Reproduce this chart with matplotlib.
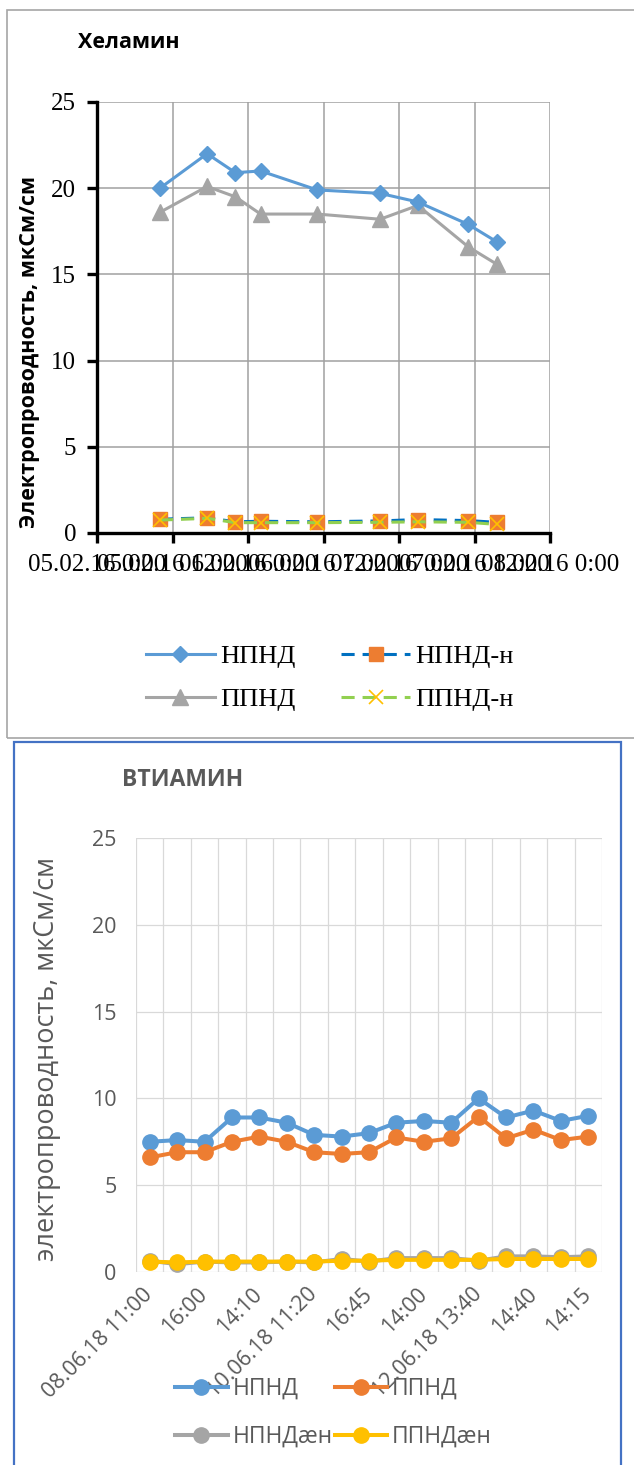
import matplotlib
matplotlib.use("Agg")
import matplotlib.pyplot as plt
from matplotlib.patches import Rectangle
from datetime import datetime
import numpy as np

# ---------------- data: Хеламин ----------------
hel_times = ["05.02.16 10:00", "05.02.16 17:30", "05.02.16 22:00",
             "06.02.16 02:00", "06.02.16 11:00", "06.02.16 21:00",
             "07.02.16 03:00", "07.02.16 11:00", "07.02.16 15:30"]
hel_npnd = [20.0, 22.0, 20.9, 21.0, 19.9, 19.7, 19.2, 17.9, 16.9]
hel_ppnd = [18.6, 20.1, 19.5, 18.5, 18.5, 18.2, 19.0, 16.6, 15.6]
hel_npnd_n = [0.8, 0.88, 0.65, 0.68, 0.65, 0.7, 0.78, 0.72, 0.62]
hel_ppnd_n = [0.75, 0.85, 0.6, 0.6, 0.6, 0.62, 0.65, 0.62, 0.5]
hel_tick_labels = ["05.02.16 0:00", "05.02.16 12:00", "06.02.16 0:00",
                   "06.02.16 12:00", "07.02.16 0:00", "07.02.16 12:00",
                   "08.02.16 0:00"]

# ---------------- data: ВТИАМИН ----------------
vti_npnd = [7.5, 7.6, 7.5, 8.9, 8.9, 8.6, 7.9, 7.8, 8.0, 8.6, 8.7, 8.6,
            10.0, 8.9, 9.3, 8.7, 9.0]
vti_ppnd = [6.6, 6.9, 6.9, 7.5, 7.8, 7.5, 6.9, 6.8, 6.9, 7.75, 7.5, 7.7,
            8.95, 7.7, 8.2, 7.6, 7.8]
vti_npnd_aen = [0.65, 0.45, 0.6, 0.55, 0.55, 0.6, 0.55, 0.75, 0.6, 0.8, 0.8,
                0.8, 0.65, 0.9, 0.9, 0.85, 0.9]
vti_ppnd_aen = [0.6, 0.55, 0.6, 0.6, 0.6, 0.6, 0.6, 0.65, 0.65, 0.7, 0.7,
                0.7, 0.7, 0.75, 0.75, 0.75, 0.75]
vti_tick_labels = ["08.06.18 11:00", "16:00", "14:10", "10.06.18 11:20",
                   "16:45", "14:00", "12.06.18 13:40", "14:40", "14:15"]

W, H, DPI = 634, 1465, 100
fig = plt.figure(figsize=(W / DPI, H / DPI), dpi=DPI)


def box(x0, y0, x1, y1):
    """pixel box (top-left origin) -> figure fraction rect"""
    return [x0 / W, 1 - y1 / H, (x1 - x0) / W, (y1 - y0) / H]


def fx(x):
    return x / W


def fy(y):
    return 1 - y / H


SERIF = "Liberation Serif"
SANS = "Open Sans"

# panel frames
fig.patches.append(Rectangle((fx(7), fy(738)), fx(700) - fx(7), fy(10) - fy(738),
                             transform=fig.transFigure, fill=False,
                             edgecolor="#a6a6a6", lw=1.2))
fig.patches.append(Rectangle((fx(14), fy(1500)), fx(621) - fx(14), fy(742) - fy(1500),
                             transform=fig.transFigure, fill=False,
                             edgecolor="#4472C4", lw=1.6))

# ================= Хеламин =================
ax1 = fig.add_axes(box(97, 102, 550, 533))
t1 = [datetime.strptime(s, "%d.%m.%y %H:%M") for s in hel_times]
tick_pos = [datetime.strptime(s, "%d.%m.%y %H:%M") for s in hel_tick_labels]

lw1 = 2.2
ax1.plot(t1, hel_npnd, color="#5B9BD5", lw=lw1, marker="D", ms=8.5,
         label="НПНД", zorder=4)
ax1.plot(t1, hel_ppnd, color="#A5A5A5", lw=lw1, marker="^", ms=11,
         label="ППНД", zorder=3)
ax1.plot(t1, hel_npnd_n, color="#0070C0", lw=lw1, ls=(0, (4.3, 2.6)),
         marker="s", ms=10, mfc="#ED7D31", mec="#ED7D31", label="НПНД-н", zorder=4)
ax1.plot(t1, hel_ppnd_n, color="#92D050", lw=lw1, ls=(0, (4.3, 2.6)),
         marker="x", ms=10, mew=1.2, mec="#FFC000", label="ППНД-н", zorder=5)

ax1.set_xlim(tick_pos[0], tick_pos[-1])
ax1.set_ylim(0, 25)
ax1.set_yticks(np.arange(0, 26, 5))
ax1.set_xticks(tick_pos)
ax1.set_xticklabels(hel_tick_labels)
ax1.grid(True, color="#a0a0a0", lw=1.1)
ax1.set_axisbelow(True)
for s in ("top", "right"):
    ax1.spines[s].set_visible(False)
for s in ("left", "bottom"):
    ax1.spines[s].set_linewidth(2.4)
    ax1.spines[s].set_color("black")
ax1.tick_params(direction="out", length=7, width=2.4, color="black",
                labelsize=18, pad=8)
for lab in ax1.get_xticklabels() + ax1.get_yticklabels():
    lab.set_fontfamily(SERIF)

fig.text(fx(78), fy(43), "Хеламин", family=SANS, weight="bold",
         fontsize=15.5, ha="left", va="center", color="black")
fig.text(fx(30), fy(352), "Электропроводность, мкСм/см", family=SANS,
         weight="bold", fontsize=15.5, rotation=90, ha="center", va="center")

h1, l1 = ax1.get_legend_handles_labels()
fig.legend(h1, l1, ncol=2,
           loc="upper left", bbox_to_anchor=(fx(146), fy(645)),
           frameon=False, prop={"family": SERIF, "size": 19},
           handlelength=2.6, handletextpad=0.2, columnspacing=1.75,
           labelspacing=0.72, borderpad=0, borderaxespad=0)

# ================= ВТИАМИН =================
ax2 = fig.add_axes(box(136, 838, 602, 1272))
x2 = np.arange(len(vti_npnd))
lw2 = 2.9
ms2 = 11
ax2.plot(x2, vti_npnd, color="#5B9BD5", lw=lw2, marker="o", ms=ms2, label="НПНД")
ax2.plot(x2, vti_ppnd, color="#ED7D31", lw=lw2, marker="o", ms=ms2, label="ППНД")
ax2.plot(x2, vti_npnd_aen, color="#A5A5A5", lw=lw2, marker="o", ms=ms2,
         label="НПНДæн")
ax2.plot(x2, vti_ppnd_aen, color="#FFC000", lw=lw2, marker="o", ms=ms2,
         label="ППНДæн")

ax2.set_xlim(-0.5, len(vti_npnd) - 0.5)
ax2.set_ylim(0, 25)
ax2.set_yticks(np.arange(0, 26, 5))
ax2.set_xticks(np.arange(0, len(vti_npnd), 2))
ax2.set_xticklabels(vti_tick_labels, rotation=45, ha="right",
                    rotation_mode="anchor", va="center")
ax2.set_xticks(np.arange(-0.5, len(vti_npnd), 1), minor=True)
ax2.grid(True, which="major", axis="y", color="#d9d9d9", lw=0.9)
ax2.grid(True, which="minor", axis="x", color="#d9d9d9", lw=0.9)
ax2.set_axisbelow(True)
for s in ax2.spines.values():
    s.set_visible(False)
ax2.tick_params(which="both", length=0, labelsize=15.5, labelcolor="#595959")
ax2.tick_params(axis="y", pad=14)
ax2.tick_params(axis="x", pad=14)
for lab in ax2.get_xticklabels() + ax2.get_yticklabels():
    lab.set_fontfamily(SANS)

fig.text(fx(122), fy(780), "ВТИАМИН", family=SANS, weight="bold",
         fontsize=16.5, ha="left", va="center", color="#595959")
fig.text(fx(47), fy(1059), "электропроводность, мкСм/см", family=SANS,
         fontsize=19.5, rotation=90, ha="center", va="center", color="#595959")

h2, l2 = ax2.get_legend_handles_labels()
order2 = [0, 2, 1, 3]
fig.legend([h2[i] for i in order2], [l2[i] for i in order2], ncol=2,
           loc="upper left", bbox_to_anchor=(fx(175), fy(1377)),
           frameon=False, prop={"family": SANS, "size": 16.5},
           labelcolor="#595959", handlelength=2.3, handletextpad=0.2,
           columnspacing=0.1, labelspacing=1.05, borderpad=0, borderaxespad=0)

fig.savefig("out.png", dpi=DPI)
